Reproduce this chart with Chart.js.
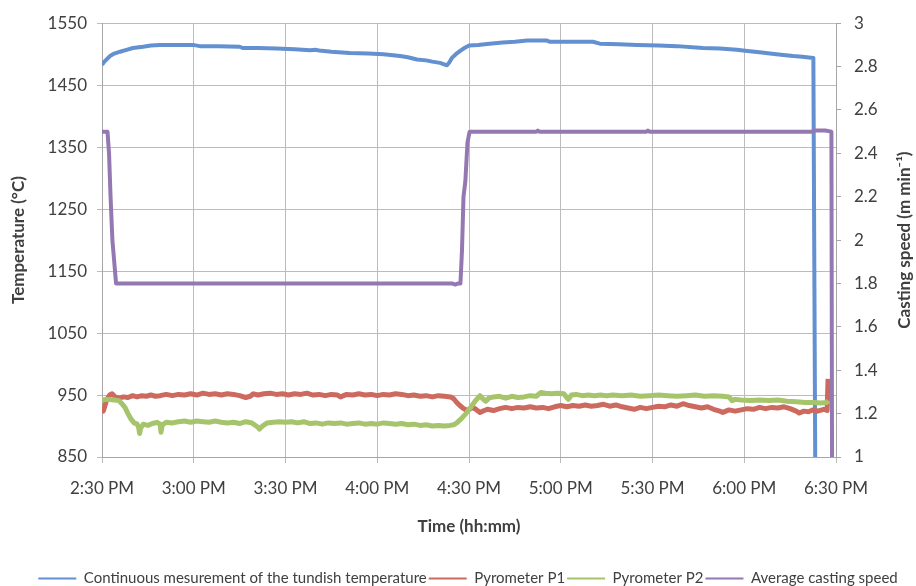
<!DOCTYPE html>
<html>
<head>
<meta charset="utf-8">
<script src="https://cdn.jsdelivr.net/npm/chart.js@4.4.1/dist/chart.umd.min.js"></script>
<style>
  html, body { margin: 0; padding: 0; background: #fff; }
  #wrap { width: 916px; height: 586px; }
</style>
</head>
<body>
<div id="wrap"><canvas id="c" width="916" height="586"></canvas></div>
<script>
// Time axis: minutes after 2:30 PM
const timeLabels = ['2:30 PM', '3:00 PM', '3:30 PM', '4:00 PM', '4:30 PM', '5:00 PM', '5:30 PM', '6:00 PM', '6:30 PM'];

// Continuous measurement of the tundish temperature (°C)
const tundishTime = [0,0.8,1.6,2.6,4,5.9,8,10.1,13.4,16,18.9,24,29.7,32,38,45,46,51,57,63,68,70,71,75,81,87,92,97.5,100,103,106,108,110.5,112.8,113.6,114.4,115.7,117,118.5,120,123,125.9,131,135,139,145.5,146.5,153,160.5,162.8,169,175,182,188,196.5,202,207.6,211,215,218.4,222,226,229,232.6,233.2];
const tundishTemp = [1483,1488,1492,1497,1501,1504,1507,1510,1512,1514,1515,1515,1515,1513,1513,1512,1510,1510,1509,1508,1506.5,1507,1506,1504,1502,1501,1500,1497,1495,1491.5,1490,1488,1486,1482,1487,1494,1500,1505,1510,1514,1515,1516.5,1519,1520,1522,1522,1520,1520,1520,1517,1516,1515,1514,1513,1510,1509,1507,1505,1503,1501,1499,1497,1496,1494,850];

// Pyrometer P1 (°C)
const p1Time = [0,0.5,1.5,2.5,3.3,4.3,5.5,7,8.5,10,11.5,13,14.5,16,17.5,19,21,23,25,27,29,31,33,35,37,39,41,43,45,47,48.5,49.5,51,53,55,57,59,61,63,65,67,69,71,73,75,77,78,80,82,84,86,88,90,92,94,96,98,100,102,104,106,108,110,112,114,115,116,117,118,119.4,120.5,121.3,122.5,123.6,125,126,128,130,132,134,136,138,140,142,144,146,148,150,152,154,156,158,160,162,164,166,168,170,172,174,176,178,180,182,184,186,188,190,192,194,196,198,200,202,203,205,207,209,211,213,215,217,219,221,223,225,227,228,229.5,231,232.5,234,236,237.1,237.4];
const p1Temp = [922,925,942,950,952,947,945,947,946,949,947,949,948,950,948,949,951,949,951,950,952,950,953,951,952,950,952,951,949,946,948,952,950,952,953,951,952,950,952,951,953,950,951,949,951,950,947,951,950,952,950,951,949,951,950,952,951,949,950,948,949,947,949,948,947,944,938,933,929,925,928,930,926,922,925,927,925,928,930,928,930,929,931,929,930,928,931,933,931,933,932,934,932,933,935,932,934,931,929,927,930,928,930,932,931,934,932,936,933,931,929,931,927,924,922,926,924,926,928,927,930,928,930,929,931,928,924,921,924,923,926,924,927,925,976];

// Pyrometer P2 (°C)
const p2Time = [0,2,4,5.5,6.5,7.5,8.5,9.5,10.5,11.5,12,12.3,12.6,13.5,15,16.5,18,19,19.3,19.7,21,23,25,27,29,31,33,35,37,39,41,43,45,47,49,51,51.5,52.5,54,56,58,60,62,64,66,68,70,72,74,76,78,80,82,84,86,88,90,92,94,96,98,100,102,104,106,108,110,112,113.8,115,116,117.5,119,120.5,122,123.6,124.5,125.5,126.5,128,130,132,134,136,138,140,142,143.5,145,147,149,151,152.5,153.5,155,157,159,161,163,165,167,170,173,176,179,182,185,188,191,194,197,200,203,205,206,207,209,212,215,218,221,224,227,230,233,235,237,237.5];
const p2Temp = [942,943,942,941,936,930,920,911,905,903,897,888,896,903,901,904,906,903,890,902,906,905,907,908,906,908,907,906,908,906,905,906,904,907,905,898,895,900,905,906,907,906,907,905,907,904,905,903,905,904,905,903,904,905,903,904,903,905,904,903,904,902,903,901,902,900,901,900,901,902,905,912,920,930,940,949,944,940,945,947,948,945,948,946,947,949,948,954,953,952,953,952,943,950,951,949,950,949,950,949,950,949,950,948,949,950,949,948,949,950,948,949,948,947,941,943,942,941,942,941,942,940,939,938,938,937,938,941];

// Average casting speed (m/min)
const speedTime = [0,1.8,2.3,2.8,3.4,4.6,30,60,90,110,114.5,115.5,116.5,117.2,117.7,118.2,118.8,119.5,120.2,142,142.5,143,178,178.5,179,232,233,236.5,238.5,238.7];
const speedVal = [2.5,2.5,2.4,2.2,2.0,1.8,1.8,1.8,1.8,1.8,1.8,1.795,1.8,1.8,1.95,2.2,2.27,2.45,2.5,2.5,2.505,2.5,2.5,2.505,2.5,2.5,2.505,2.505,2.5,1.0];

const seriesNames = ['Continuous mesurement of the tundish temperature', 'Pyrometer P1', 'Pyrometer P2', 'Average casting speed'];
const tempTitle = 'Temperature (°C)';
const speedTitle = 'Casting speed (m min\u207B\u00B9)';
const timeTitle = 'Time (hh:mm)';

const pts = (t, v) => t.map((x, i) => ({ x: x, y: v[i] }));

const FONT = 'Lato, "Liberation Sans", sans-serif';
const TEXT = '#404040';
const GRID = '#bcbcbc';
const AXIS = '#a6a6a6';

// Right-hand axis title, reading bottom to top like the left one
const speedTitlePlugin = {
  id: 'speedTitle',
  afterDraw(chart) {
    const { ctx, chartArea } = chart;
    ctx.save();
    ctx.translate(905, (chartArea.top + chartArea.bottom) / 2);
    ctx.rotate(-Math.PI / 2);
    ctx.font = 'bold 17px ' + FONT;
    ctx.fillStyle = TEXT;
    ctx.textAlign = 'center';
    ctx.textBaseline = 'middle';
    ctx.fillText(speedTitle, 0, 0);
    ctx.restore();
  }
};

// Sit the legend row a little lower and to the right, near the bottom edge
const legendOffsetPlugin = {
  id: 'legendOffset',
  afterLayout(chart) {
    const lg = chart.legend;
    if (lg) { lg.top += 10; lg.bottom += 10; lg.left += 10; lg.right += 10; }
  }
};

new Chart(document.getElementById('c'), {
  type: 'line',
  data: {
    datasets: [
      { label: seriesNames[0], data: pts(tundishTime, tundishTemp), yAxisID: 'y', borderColor: '#6390d0', borderWidth: 4, order: 4 },
      { label: seriesNames[1], data: pts(p1Time, p1Temp), yAxisID: 'y', borderColor: '#cc6a5f', borderWidth: 5, order: 3 },
      { label: seriesNames[2], data: pts(p2Time, p2Temp), yAxisID: 'y', borderColor: '#a6c46b', borderWidth: 5, order: 2 },
      { label: seriesNames[3], data: pts(speedTime, speedVal), yAxisID: 'y2', borderColor: '#9478b2', borderWidth: 4, order: 1 }
    ]
  },
  options: {
    responsive: false,
    animation: false,
    devicePixelRatio: 1,
    elements: { point: { radius: 0 }, line: { tension: 0, borderJoinStyle: 'round', borderCapStyle: 'butt' } },
    layout: { padding: { top: 18, left: 0, right: 0, bottom: 0 } },
    scales: {
      x: {
        type: 'linear',
        min: 0, max: 240,
        ticks: {
          stepSize: 30,
          color: TEXT,
          font: { family: FONT, size: 17 },
          padding: 15,
          maxRotation: 0,
          callback: (v) => timeLabels[Math.round(v / 30)]
        },
        grid: { color: GRID, tickLength: 6, drawTicks: true },
        border: { color: AXIS },
        title: { display: true, text: timeTitle, color: TEXT, font: { family: FONT, size: 17, weight: 'bold' }, padding: { top: 0, bottom: 22 } },
        afterFit: (s) => { s.height = 586 - 457 - s.chart.legend.height; }
      },
      y: {
        position: 'left',
        min: 850, max: 1550,
        ticks: { stepSize: 100, color: TEXT, font: { family: FONT, size: 17 }, padding: 10, callback: (v) => String(v) },
        grid: { color: GRID, tickLength: 5 },
        border: { color: AXIS },
        title: { display: true, text: tempTitle, color: TEXT, font: { family: FONT, size: 17, weight: 'bold' }, padding: { top: 8, bottom: 0 } },
        afterFit: (s) => { s.width = 102; }
      },
      y2: {
        position: 'right',
        min: 1, max: 3,
        ticks: { stepSize: 0.2, color: TEXT, font: { family: FONT, size: 17 }, padding: 13, callback: (v) => String(Math.round(v * 10) / 10) },
        grid: { drawOnChartArea: false, color: AXIS, tickLength: 5 },
        border: { color: AXIS },
        afterFit: (s) => { s.width = 80; }
      }
    },
    plugins: {
      legend: {
        position: 'bottom',
        labels: {
          usePointStyle: true,
          pointStyle: 'line',
          pointStyleWidth: 38,
          color: TEXT,
          font: { family: FONT, size: 15 },
          padding: 2,
          sort: (a, b) => a.datasetIndex - b.datasetIndex,
          generateLabels(chart) {
            const items = Chart.defaults.plugins.legend.labels.generateLabels(chart);
            items.forEach((it) => { it.lineWidth = 2; it.pointStyle = 'line'; });
            return items;
          }
        }
      },
      tooltip: { enabled: false }
    }
  },
  plugins: [speedTitlePlugin, legendOffsetPlugin]
});
</script>
</body>
</html>
